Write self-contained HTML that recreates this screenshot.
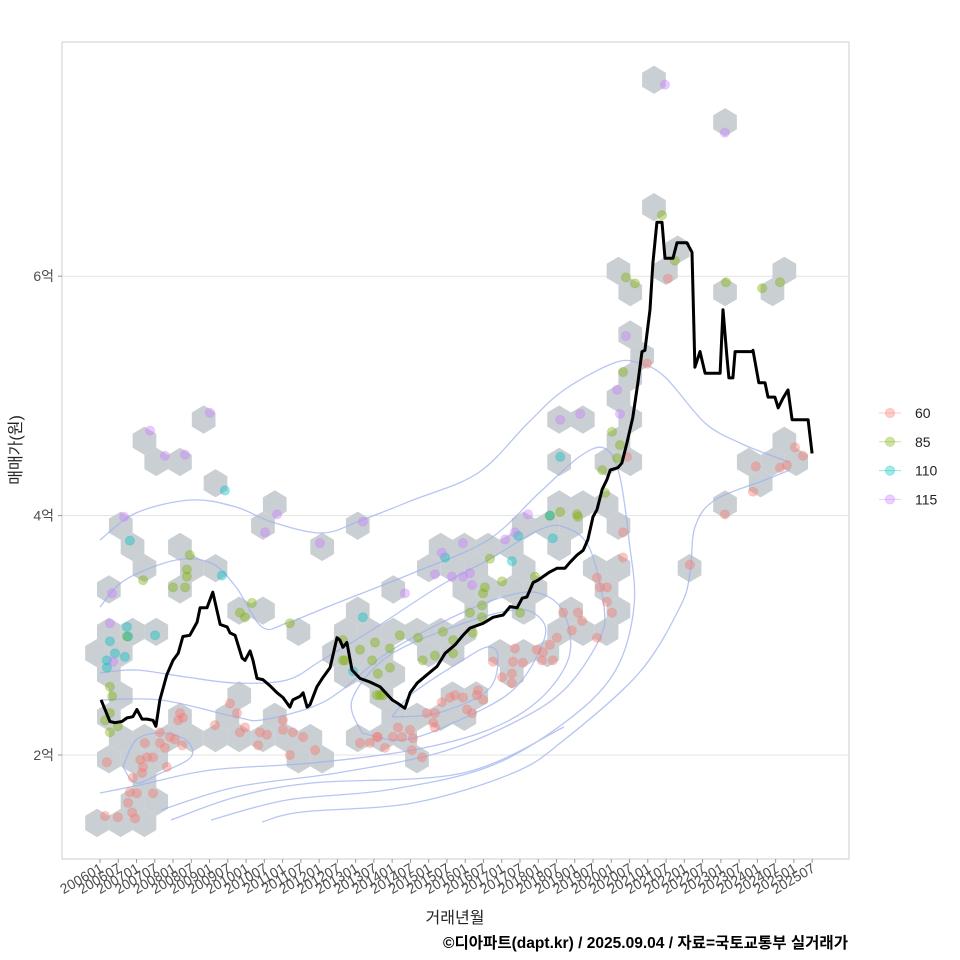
<!DOCTYPE html>
<html><head><meta charset="utf-8">
<style>
html,body{margin:0;padding:0;background:#fff;}
svg{display:block;font-family:"Liberation Sans","Noto Sans CJK KR",sans-serif;}
</style></head>
<body>
<svg id="chart" width="960" height="960" viewBox="0 0 960 960" xmlns="http://www.w3.org/2000/svg">
<rect x="0" y="0" width="960" height="960" fill="#fff"/>
<g id="grid"></g>
<g id="hexes"></g>
<g id="contours" fill="none" stroke="#9fb2ee" stroke-width="1.3" opacity="0.75"></g>
<g id="points"></g>
<g id="line"></g>
<rect x="62" y="42" width="787" height="817" fill="none" stroke="#cccccc" stroke-width="1"/>
<g id="axes"></g>
<g id="legend"></g>
<text transform="translate(21,450) rotate(-90)" text-anchor="middle" font-size="16" fill="#222">매매가(원)</text>
<text x="455" y="923" text-anchor="middle" font-size="16" fill="#222">거래년월</text>
<text x="848" y="948" text-anchor="end" font-size="15.5" font-weight="bold" fill="#000" textLength="405" lengthAdjust="spacingAndGlyphs">©디아파트(dapt.kr) / 2025.09.04 / 자료=국토교통부 실거래가</text>
</svg>
<script>
// ---- data ----
const lineT = [2006.03,2006.27,2006.41,2006.60,2006.74,2006.90,2007.01,2007.15,2007.29,2007.45,2007.53,2007.64,2007.83,2008.00,2008.14,2008.27,2008.46,2008.66,2008.74,2008.93,2009.09,2009.20,2009.29,2009.48,2009.56,2009.70,2009.89,2009.97,2010.11,2010.19,2010.30,2010.46,2010.65,2010.85,2011.01,2011.20,2011.28,2011.48,2011.56,2011.67,2011.75,2011.94,2012.11,2012.30,2012.49,2012.57,2012.65,2012.76,2012.90,2013.12,2013.39,2013.67,2014.00,2014.16,2014.35,2014.49,2014.68,2014.95,2015.23,2015.45,2015.72,2015.94,2016.13,2016.49,2016.76,2017.04,2017.23,2017.42,2017.56,2017.69,2017.86,2017.99,2018.13,2018.32,2018.51,2018.73,2018.87,2019.06,2019.23,2019.36,2019.50,2019.61,2019.75,2019.88,2019.97,2020.18,2020.29,2020.43,2020.59,2020.73,2020.84,2020.92,2021.06,2021.14,2021.25,2021.39,2021.47,2021.69,2021.80,2022.07,2022.21,2022.29,2022.43,2022.57,2022.98,2023.06,2023.17,2023.22,2023.33,2023.39,2023.85,2023.88,2024.04,2024.21,2024.29,2024.48,2024.57,2024.70,2024.84,2024.95,2025.39,2025.50];
const lineV = [2.46,2.28,2.27,2.28,2.31,2.32,2.38,2.30,2.30,2.29,2.24,2.46,2.67,2.79,2.85,2.99,3.00,3.11,3.23,3.23,3.36,3.21,3.09,3.07,3.02,3.00,2.81,2.79,2.87,2.79,2.64,2.63,2.58,2.52,2.48,2.40,2.46,2.49,2.52,2.40,2.42,2.57,2.65,2.73,2.98,2.96,2.90,2.94,2.71,2.64,2.61,2.57,2.46,2.43,2.39,2.52,2.60,2.67,2.74,2.85,2.92,3.00,3.06,3.10,3.15,3.17,3.24,3.23,3.31,3.32,3.44,3.46,3.49,3.53,3.56,3.56,3.61,3.67,3.71,3.80,3.99,4.05,4.22,4.30,4.38,4.40,4.44,4.61,4.82,5.11,5.37,5.38,5.72,6.11,6.45,6.45,6.15,6.15,6.28,6.28,6.20,5.24,5.37,5.19,5.19,5.72,5.32,5.15,5.15,5.37,5.37,5.38,5.11,5.11,4.99,4.99,4.90,4.98,5.05,4.80,4.80,4.52];

const types = ["60","85","110","115"];
const typeColors = ["#F8766D","#7CAE00","#00BFC4","#C77CFF"];

const pts60T = [2006.14,2006.77,2006.88,2006.96,2006.82,2007.01,2007.45,2006.19,2007.10,2007.18,2007.15,2007.29,2007.45,2006.90,2007.83,2007.23,2007.64,2007.78,2007.92,2008.05,2007.64,2008.25,2008.19,2008.27,2008.14,2009.15,2009.56,2009.75,2009.83,2009.97,2010.38,2010.57,2010.33,2011.01,2011.28,2011.01,2011.56,2011.20,2011.89,2013.12,2013.58,2013.80,2014.02,2020.32,2020.32,2019.61,2019.69,2019.88,2019.88,2020.02,2018.68,2019.09,2019.20,2018.92,2018.51,2018.32,2019.61,2017.96,2018.13,2017.36,2018.10,2018.40,2016.76,2017.31,2017.58,2017.01,2017.28,2017.28,2016.35,2016.32,2016.49,2015.36,2015.58,2015.72,2015.94,2016.05,2016.19,2014.95,2015.17,2015.12,2015.17,2014.16,2014.49,2014.57,2014.27,2013.61,2013.39,2014.54,2014.82,2021.55,2020.98,2020.43,2025.03,2025.25,2024.81,2024.62,2023.96,2023.88,2023.11,2022.15,2006.49];
const pts60V = [1.49,1.60,1.52,1.47,1.69,1.68,1.68,1.94,1.96,1.90,1.85,1.98,1.98,1.81,1.90,2.10,2.10,2.06,2.15,2.13,2.19,2.08,2.35,2.31,2.29,2.25,2.43,2.35,2.19,2.23,2.19,2.17,2.08,2.21,2.19,2.29,2.15,2.00,2.04,2.10,2.15,2.06,2.15,3.86,3.65,3.48,3.40,3.40,3.28,3.19,3.19,3.19,3.12,3.04,2.98,2.92,2.98,2.88,2.86,2.89,2.79,2.79,2.78,2.78,2.77,2.65,2.68,2.60,2.54,2.50,2.46,2.44,2.48,2.50,2.48,2.38,2.35,2.35,2.35,2.27,2.23,2.23,2.21,2.14,2.15,2.15,2.10,2.04,1.98,5.98,5.27,4.49,4.57,4.50,4.42,4.40,4.41,4.20,4.01,3.59,1.48];

const pts85T = [2007.18,2008.38,2008.38,2008.00,2008.33,2009.83,2010.16,2009.97,2011.20,2006.74,2006.27,2006.33,2006.27,2006.14,2006.49,2006.27,2012.65,2013.12,2012.65,2013.53,2013.45,2013.94,2013.61,2013.94,2013.58,2013.75,2016.68,2016.54,2016.49,2016.46,2016.13,2016.46,2017.01,2017.91,2017.50,2018.32,2018.60,2019.09,2019.83,2015.39,2015.67,2016.21,2014.71,2014.21,2012.71,2014.84,2015.17,2015.67,2013.67,2021.39,2020.40,2020.65,2021.74,2023.14,2024.13,2024.62,2020.32,2020.02,2020.24,2020.16,2019.75,2019.06,2008.46];
const pts85V = [3.46,3.55,3.49,3.40,3.40,3.19,3.27,3.15,3.10,2.99,2.57,2.49,2.35,2.29,2.24,2.19,2.96,2.88,2.79,2.94,2.79,2.89,2.68,2.73,2.50,2.50,3.64,3.40,3.35,3.25,3.19,3.15,3.45,3.49,3.19,4.00,4.03,3.99,4.19,3.03,2.96,3.02,2.98,3.00,2.79,2.79,2.83,2.85,2.50,6.51,5.99,5.94,6.13,5.95,5.90,5.95,5.20,4.70,4.59,4.48,4.38,4.01,3.67];

const pts110T = [2009.34,2006.74,2006.77,2006.27,2007.51,2006.41,2006.68,2006.19,2006.19,2013.20,2012.93,2015.45,2017.45,2017.28,2018.40,2018.32,2018.60,2006.82,2009.42];
const pts110V = [3.50,3.07,2.99,2.95,3.00,2.85,2.82,2.79,2.73,3.15,2.70,3.65,3.83,3.62,3.81,4.00,4.49,3.79,4.21];

const pts115T = [2006.33,2006.27,2006.36,2006.66,2007.37,2007.78,2008.33,2009.01,2010.85,2010.52,2012.02,2013.20,2015.94,2015.36,2015.17,2015.64,2015.94,2016.13,2016.19,2014.35,2017.09,2017.36,2017.72,2021.47,2023.11,2020.40,2020.16,2018.60,2019.15,2020.24];
const pts115V = [3.35,3.10,2.78,3.99,4.71,4.50,4.51,4.86,4.01,3.86,3.77,3.95,3.77,3.69,3.51,3.49,3.49,3.52,3.42,3.35,3.80,3.86,4.01,7.60,7.20,5.50,5.05,4.80,4.85,4.85];

const yTicks = [2,4,6];
const yTickLabels = ["2억","4억","6억"];
const xTickLabels = [];
for (let yr = 2006; yr <= 2025; yr++) { xTickLabels.push(yr + "01"); xTickLabels.push(yr + "07"); }

// ---- scales ----
const X0 = 100, PXYR = 36.52;
function xs(t){ return X0 + (t - 2006) * PXYR; }
function ys(v){ return 994.4 - v * 119.7; }
const NS = "http://www.w3.org/2000/svg";
function mk(tag, attrs, parent){ const e = document.createElementNS(NS, tag); for (const k in attrs) e.setAttribute(k, attrs[k]); parent.appendChild(e); return e; }

// grid + axes
const grid = document.getElementById('grid');
const axes = document.getElementById('axes');
yTicks.forEach((v,i) => {
  const gl = mk('line', {x1:62, x2:849, y1:ys(v), y2:ys(v), stroke:'#e3e3e3', 'stroke-width':1}, grid);
  
  
  const tk = mk('line', {x1:58, x2:62, y1:ys(v), y2:ys(v), stroke:'#999', 'stroke-width':1}, axes);
  
  
  const lb = mk('text', {x:54, y:ys(v)+5, 'text-anchor':'end', 'font-size':14, fill:'#4d4d4d'}, axes);
  lb.textContent = yTickLabels[i];
  
  
});
xTickLabels.forEach((lab,i) => {
  const t = 2006 + i * 0.5;
  const x = xs(t);
  const tk = mk('line', {x1:x, x2:x, y1:859, y2:863, stroke:'#999', 'stroke-width':1}, axes);
  
  
  const lb = mk('text', {x:0, y:0, 'text-anchor':'end', 'font-size':14, fill:'#4d4d4d', transform:`translate(${x+4},${871}) rotate(-30)`}, axes);
  lb.textContent = lab;
  
  
});

// points grouped
const ptT = [pts60T, pts85T, pts110T, pts115T];
const ptV = [pts60V, pts85V, pts110V, pts115V];

// hexbin
const HT0 = 2005.918, HV0 = 1.432, HDT = 0.649, HDV = 0.1774;
const bins = {};
ptT.forEach((arr,g) => arr.forEach((t,i) => {
  const v = ptV[g][i];
  const fr = (v - HV0) / HDV;
  let best = null, bd = 1e9;
  [Math.floor(fr), Math.ceil(fr)].forEach(r => {
    const off = (Math.abs(r) % 2 === 1) ? 0.5 : 0;
    const c = Math.round((t - HT0) / HDT - off);
    const ct = HT0 + (c + off) * HDT, cv = HV0 + r * HDV;
    const dx = xs(t) - xs(ct), dy = ys(v) - ys(cv);
    const d = dx*dx + dy*dy;
    if (d < bd) { bd = d; best = [ct, cv, c, r]; }
  });
  bins[best[2] + "_" + best[3]] = best;
}));
const hexG = document.getElementById('hexes');
const HW = 11.85, HR = 14.15;
Object.values(bins).forEach(b => {
  const cx = xs(b[0]), cy = ys(b[1]);
  const p = [[cx,cy-HR],[cx+HW,cy-HR/2],[cx+HW,cy+HR/2],[cx,cy+HR],[cx-HW,cy+HR/2],[cx-HW,cy-HR/2]].map(q=>q[0].toFixed(1)+","+q[1].toFixed(1)).join(" ");
  const h = mk('polygon', {points:p, fill:'#c6ccd1', opacity:0.95}, hexG);
  
  
});

// contours (decorative density outline, pixel paths)
const contourPaths = [
 [[100,540],[136,513],[191,500],[236,507],[272,522],[322,533],[362,520],[413,500],[478,473],[528,423],[564,390],[614,363],[639,363],[665,377],[705,423],[740,443],[775,457],[790,462]],
 [[790,470],[765,480],[715,500],[695,527],[690,573],[680,607],[639,673],[564,740],[513,773],[413,803],[302,812],[262,822]],
 [[100,607],[125,580],[176,560],[211,563],[236,587],[262,627],[287,623],[337,603],[413,573],[488,540],[539,493],[579,457],[604,448],[619,473],[629,540],[634,607],[614,673],[564,723],[488,767],[387,790],[287,800],[211,820]],
 [[100,673],[136,670],[186,677],[236,683],[287,680],[322,660],[372,630],[438,587],[488,560],[539,530],[564,527],[589,547],[604,607],[599,640],[564,690],[513,723],[438,753],[337,773],[236,787],[161,810]],
 [[100,700],[161,700],[236,717],[262,720],[312,707],[342,690],[387,653],[453,617],[503,597],[539,593],[564,613],[569,657],[539,700],[488,730],[413,750],[312,763],[211,770],[140,785],[100,793]],
 [[362,733],[352,700],[387,657],[453,627],[513,610],[539,617],[544,640],[513,690],[453,723],[403,740],[362,733]],
 [[392,717],[413,693],[463,660],[488,647],[498,657],[488,690],[438,713],[392,717]],
 [[123,767],[136,740],[161,733],[186,740],[191,757],[161,773],[136,783],[123,767]],
 [[171,820],[236,797],[312,783],[463,773],[564,727]]
];
function smooth(pts){
  let d = "M" + pts[0][0] + "," + pts[0][1];
  for (let i = 0; i < pts.length - 1; i++) {
    const p0 = pts[Math.max(0,i-1)], p1 = pts[i], p2 = pts[i+1], p3 = pts[Math.min(pts.length-1,i+2)];
    const c1x = p1[0] + (p2[0]-p0[0])/6, c1y = p1[1] + (p2[1]-p0[1])/6;
    const c2x = p2[0] - (p3[0]-p1[0])/6, c2y = p2[1] - (p3[1]-p1[1])/6;
    d += ` C${c1x.toFixed(1)},${c1y.toFixed(1)} ${c2x.toFixed(1)},${c2y.toFixed(1)} ${p2[0]},${p2[1]}`;
  }
  return d;
}
const cg = document.getElementById('contours');
contourPaths.forEach(pts => {
  const c = mk('path', {d: smooth(pts)}, cg);
  
  
});

// points
const pg = document.getElementById('points');
ptT.forEach((arr,g) => arr.forEach((t,i) => {
  const c = mk('circle', {cx: xs(t).toFixed(1), cy: ys(ptV[g][i]).toFixed(1), r: 4.6, fill: typeColors[g], 'fill-opacity': 0.4, stroke: typeColors[g], 'stroke-opacity': 0.25}, pg);
  
  
}));

// line
const lg = document.getElementById('line');
const ld = lineT.map((t,i) => (i ? "L" : "M") + xs(t).toFixed(1) + "," + ys(lineV[i]).toFixed(1)).join(" ");
const ln = mk('path', {d: ld, fill:'none', stroke:'#000', 'stroke-width':3, 'stroke-linejoin':'round'}, lg);



// legend
const leg = document.getElementById('legend');
types.forEach((tp,i) => {
  const y = 413 + i * 28.8;
  const g = mk('g', {}, leg);
  
  
  mk('line', {x1:879, x2:901, y1:y, y2:y, stroke:typeColors[i], 'stroke-opacity':0.4, 'stroke-width':1}, g);
  mk('circle', {cx:890, cy:y, r:4.6, fill:typeColors[i], 'fill-opacity':0.35, stroke:typeColors[i], 'stroke-opacity':0.3}, g);
  const t = mk('text', {x:915, y:y+5, 'font-size':14, fill:'#222'}, g);
  t.textContent = tp;
});
</script>
</body></html>
